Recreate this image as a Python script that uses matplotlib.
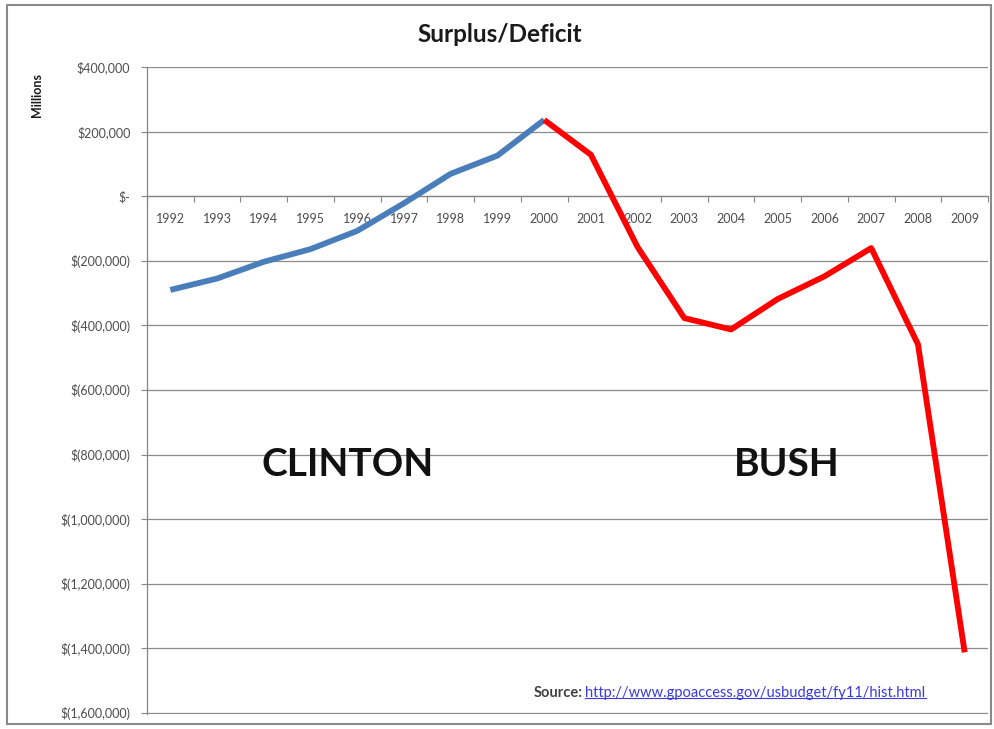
import matplotlib
matplotlib.use('Agg')
import matplotlib.pyplot as plt
from matplotlib.ticker import FuncFormatter, FixedLocator
from matplotlib.patches import Rectangle
from matplotlib.lines import Line2D

plt.rcParams['font.family'] = ['Lato', 'DejaVu Sans']

# Surplus/deficit in millions of dollars
years = ['1992', '1993', '1994', '1995', '1996', '1997', '1998', '1999', '2000',
         '2001', '2002', '2003', '2004', '2005', '2006', '2007', '2008', '2009']
balance = [-290321, -255051, -203186, -163952, -107431, -21884, 69270, 125610, 236241,
           128236, -157758, -377585, -412727, -318346, -248181, -160701, -458553, -1412686]
clinton_end = 8  # index of 2000, where the line changes colour
yticks = [400000, 200000, 0, -200000, -400000, -600000, -800000,
          -1000000, -1200000, -1400000, -1600000]


def money(v, pos=None):
    if v == 0:
        return '$-'
    if v > 0:
        return '${:,.0f}'.format(v)
    return '$({:,.0f})'.format(-v)


fig = plt.figure(figsize=(9.94, 7.29), dpi=100)
ax = fig.add_axes([0.1479, 0.0206, 0.8461, 0.8875])

x = list(range(len(years)))
ax.plot(x[:clinton_end + 1], balance[:clinton_end + 1], color='#4A7EBB', linewidth=4.2,
        solid_capstyle='butt', solid_joinstyle='round', zorder=3)
ax.plot(x[clinton_end:], balance[clinton_end:], color='#FF0000', linewidth=4.2,
        solid_capstyle='butt', solid_joinstyle='round', zorder=3)

ax.set_xlim(-0.5, len(years) - 0.5)
ax.set_ylim(-1603500, 400000)

# y axis
ax.yaxis.set_major_locator(FixedLocator(yticks))
ax.yaxis.set_major_formatter(FuncFormatter(money))
ax.tick_params(axis='y', length=4, width=0.8, color='#868686', pad=8,
               labelsize=9, labelcolor='#4d4d4d')
ax.grid(axis='y', color='#8a8a8a', linewidth=0.9)
ax.set_axisbelow(True)

# x axis crossing at zero, ticks between categories
ax.spines['bottom'].set_position(('data', 0))
ax.xaxis.set_major_locator(FixedLocator([i - 0.5 for i in range(len(years) + 1)]))
ax.xaxis.set_major_formatter(FuncFormatter(lambda v, p: ''))
ax.xaxis.set_minor_locator(FixedLocator(x))
ax.set_xticks(x, years, minor=True)
ax.tick_params(axis='x', which='major', length=4, width=0.8, color='#868686', direction='out')
ax.tick_params(axis='x', which='minor', length=0, pad=12, labelsize=9, labelcolor='#4d4d4d')

for s in ['top', 'right']:
    ax.spines[s].set_visible(False)
for s in ['left', 'bottom']:
    ax.spines[s].set_color('#868686')
    ax.spines[s].set_linewidth(0.9)

fig.text(0.503, 0.952, 'Surplus/Deficit', ha='center', va='center',
         fontsize=17.5, fontweight='bold', color='#1a1a1a')
fig.text(0.037, 0.870, 'Millions', rotation=90, ha='center', va='center',
         fontsize=9, fontweight='bold', color='#1a1a1a')

ax.text(3.8, -830000, 'CLINTON', ha='center', va='center', fontsize=28,
        fontweight='bold', color='#111111')
ax.text(13.2, -830000, 'BUSH', ha='center', va='center', fontsize=28,
        fontweight='bold', color='#111111')

src = fig.text(0.586, 0.050, 'Source:', ha='right', va='center', fontsize=10.5,
               fontweight='bold', color='#404040')
url = fig.text(0.589, 0.050, 'http://www.gpoaccess.gov/usbudget/fy11/hist.html',
               ha='left', va='center', fontsize=10.5, color='#3a3ae0')

fig.canvas.draw()
bb = url.get_window_extent().transformed(fig.transFigure.inverted())
fig.add_artist(Line2D([bb.x0, bb.x1], [bb.y0 + 0.002, bb.y0 + 0.002],
                      transform=fig.transFigure, color='#3a3ae0', linewidth=0.8))

fig.add_artist(Rectangle((0.007, 0.007), 0.99, 0.986, transform=fig.transFigure,
                         fill=False, edgecolor='#8a8a8a', linewidth=1.5))

fig.savefig('out.png', dpi=100)
